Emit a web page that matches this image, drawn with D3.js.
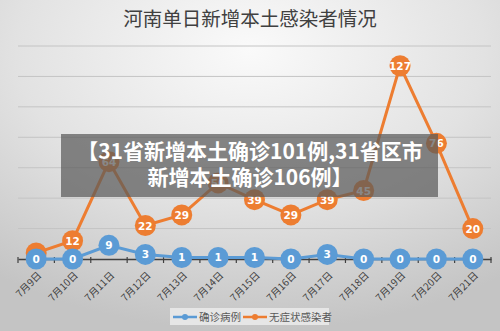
<!DOCTYPE html>
<html><head><meta charset="utf-8">
<script src="https://cdn.jsdelivr.net/npm/d3@7/dist/d3.min.js"></script>
<style>html,body{margin:0;padding:0;overflow:hidden;}svg{display:block;}</style>
</head><body><svg id="c" width="500" height="331"></svg>
<script>
const categories = ["7月9日","7月10日","7月11日","7月12日","7月13日","7月14日","7月15日","7月16日","7月17日","7月18日","7月19日","7月20日","7月21日"];
const confirmed = [0,0,9,3,1,1,1,0,3,0,0,0,0];
const asymptomatic = [4,12,64,22,29,50,39,29,39,45,127,76,20];
const yTicks = [0,20,40,60,80,100,120,140];
const seriesNames = ["确诊病例","无症状感染者"];
const colors = ["#5b9bd5","#ed7d31"];
const titleText = "河南单日新增本土感染者情况";
const bannerLines = ["【31省新增本土确诊101例,31省区市","新增本土确诊106例】"];

const W=500,H=331;
const svg=d3.select("#c");
const defs=svg.append("defs");
const g=defs.append("radialGradient").attr("id","bg").attr("cx","50%").attr("cy","15%").attr("r","85%");
g.append("stop").attr("offset","0%").attr("stop-color","#fafafa");
g.append("stop").attr("offset","55%").attr("stop-color","#e2e2e2");
g.append("stop").attr("offset","100%").attr("stop-color","#c4c4c4");
svg.append("rect").attr("width",W).attr("height",H).attr("fill","url(#bg)");

const x=d3.scaleBand().domain(categories).range([18,491]);
const y=d3.scaleLinear().domain([0,140]).range([259,46]);

svg.append("text").attr("x",250).attr("y",26).attr("text-anchor","middle")
  .attr("font-family","Noto Sans CJK SC").attr("font-size",19.5).attr("fill","#404040").text(titleText);

// grid
svg.append("g").selectAll("line").data(yTicks.filter(d=>d>0)).join("line")
  .attr("x1",18).attr("x2",491).attr("y1",d=>y(d)).attr("y2",d=>y(d))
  .attr("stroke","#c4c4c4").attr("stroke-width",1);

// axis
const ax=svg.append("g").attr("transform","translate(0,259)")
  .call(d3.axisBottom(x).tickSize(0).tickFormat(""));
ax.select(".domain").attr("stroke","#404040").attr("stroke-width",1.5);
const bounds=categories.map(c=>x(c)).concat([x.range()[1]]);
svg.append("g").selectAll("line").data(bounds).join("line")
  .attr("x1",d=>d).attr("x2",d=>d).attr("y1",257).attr("y2",263)
  .attr("stroke","#404040").attr("stroke-width",1.2);
svg.append("g").selectAll("text").data(categories).join("text")
  .attr("transform",d=>`translate(${x(d)+x.bandwidth()/2+6},276) rotate(-45)`)
  .attr("text-anchor","end").attr("font-family","Noto Sans CJK SC").attr("font-size",10)
  .attr("fill","#404040").text(d=>d);

const cx=d=>x(d)+x.bandwidth()/2;
const series=[confirmed,asymptomatic];
const line=d3.line().x((d,i)=>cx(categories[i])).y(d=>y(d));
[1,0].forEach(si=>{
  const data=series[si];
  const gg=svg.append("g");
  gg.append("path").datum(data).attr("d",line).attr("fill","none")
    .attr("stroke",colors[si]).attr("stroke-width",3);
  gg.selectAll("circle").data(data).join("circle")
    .attr("cx",(d,i)=>cx(categories[i])).attr("cy",d=>y(d)).attr("r",10.5).attr("fill",colors[si]);
  gg.selectAll("text").data(data).join("text")
    .attr("x",(d,i)=>cx(categories[i])).attr("y",d=>y(d)+4)
    .attr("text-anchor","middle").attr("font-family","DejaVu Sans, sans-serif").attr("font-weight","bold")
    .attr("font-size",10.5).attr("fill","#fff").text(d=>d);
});

// banner
svg.append("rect").attr("x",61).attr("y",134).attr("width",377).attr("height",63)
  .attr("fill","rgba(90,90,90,0.72)");
svg.append("g").selectAll("text").data(bannerLines).join("text")
  .attr("x",250).attr("y",(d,i)=>159+i*26).attr("text-anchor","middle")
  .attr("font-family","Noto Sans CJK SC").attr("font-weight","bold").attr("font-size",21)
  .attr("fill","#fff").text(d=>d);

// legend
svg.append("rect").attr("x",170).attr("y",308).attr("width",159).attr("height",17).attr("fill","#e6e6e6");
const lx=[173,243];
seriesNames.forEach((n,i)=>{
  svg.append("line").attr("x1",lx[i]).attr("x2",lx[i]+24).attr("y1",317).attr("y2",317)
    .attr("stroke",colors[i]).attr("stroke-width",2.5);
  svg.append("circle").attr("cx",lx[i]+12).attr("cy",317).attr("r",3).attr("fill",colors[i]);
  svg.append("text").attr("x",lx[i]+26).attr("y",321).attr("font-family","Noto Sans CJK SC")
    .attr("font-size",10.5).attr("fill","#595959").text(n);
});
</script></body></html>
